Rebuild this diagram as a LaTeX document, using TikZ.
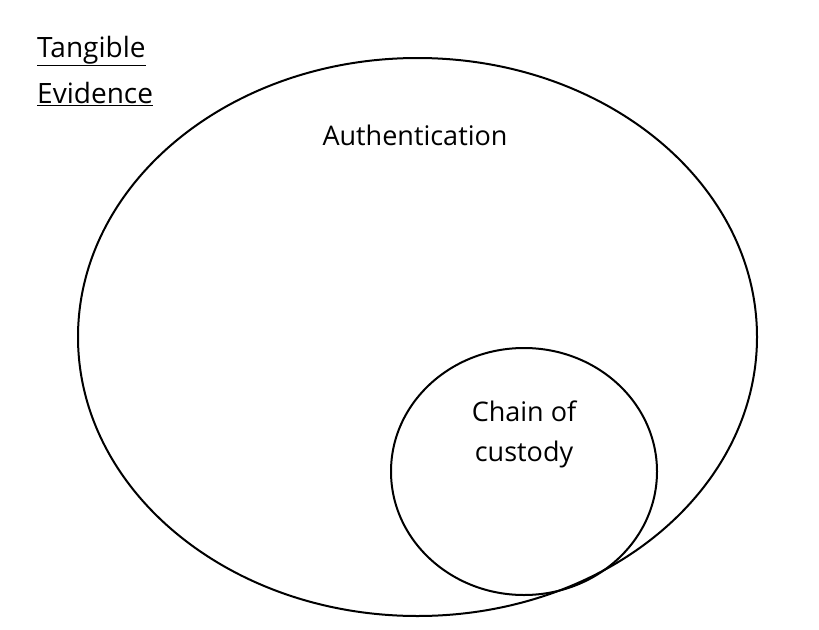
\documentclass[tikz,border=0pt]{standalone}
\usepackage{fontspec}
\setmainfont{Open Sans}
\begin{document}
\begin{tikzpicture}[x=1pt,y=-1pt,
  lbl/.style={font=\fontsize{27}{40}\selectfont, align=center, inner sep=0pt},
  ring/.style={draw, line width=2pt}]
\useasboundingbox (0,0) rectangle (819,629);
\draw[ring] (417.5,337) ellipse [x radius=339.5, y radius=279];
\draw[ring] (524,471.5) ellipse [x radius=133, y radius=123.5];
\node[lbl, font=\fontsize{28}{46}\selectfont, align=left, anchor=north west] (title) at (37,36) {\underline{Tangible}\\\underline{Evidence}};
\node[lbl] (auth) at (415,135) {Authentication};
\node[lbl] (coc) at (524,434) {Chain of\\custody};
\end{tikzpicture}
\end{document}
